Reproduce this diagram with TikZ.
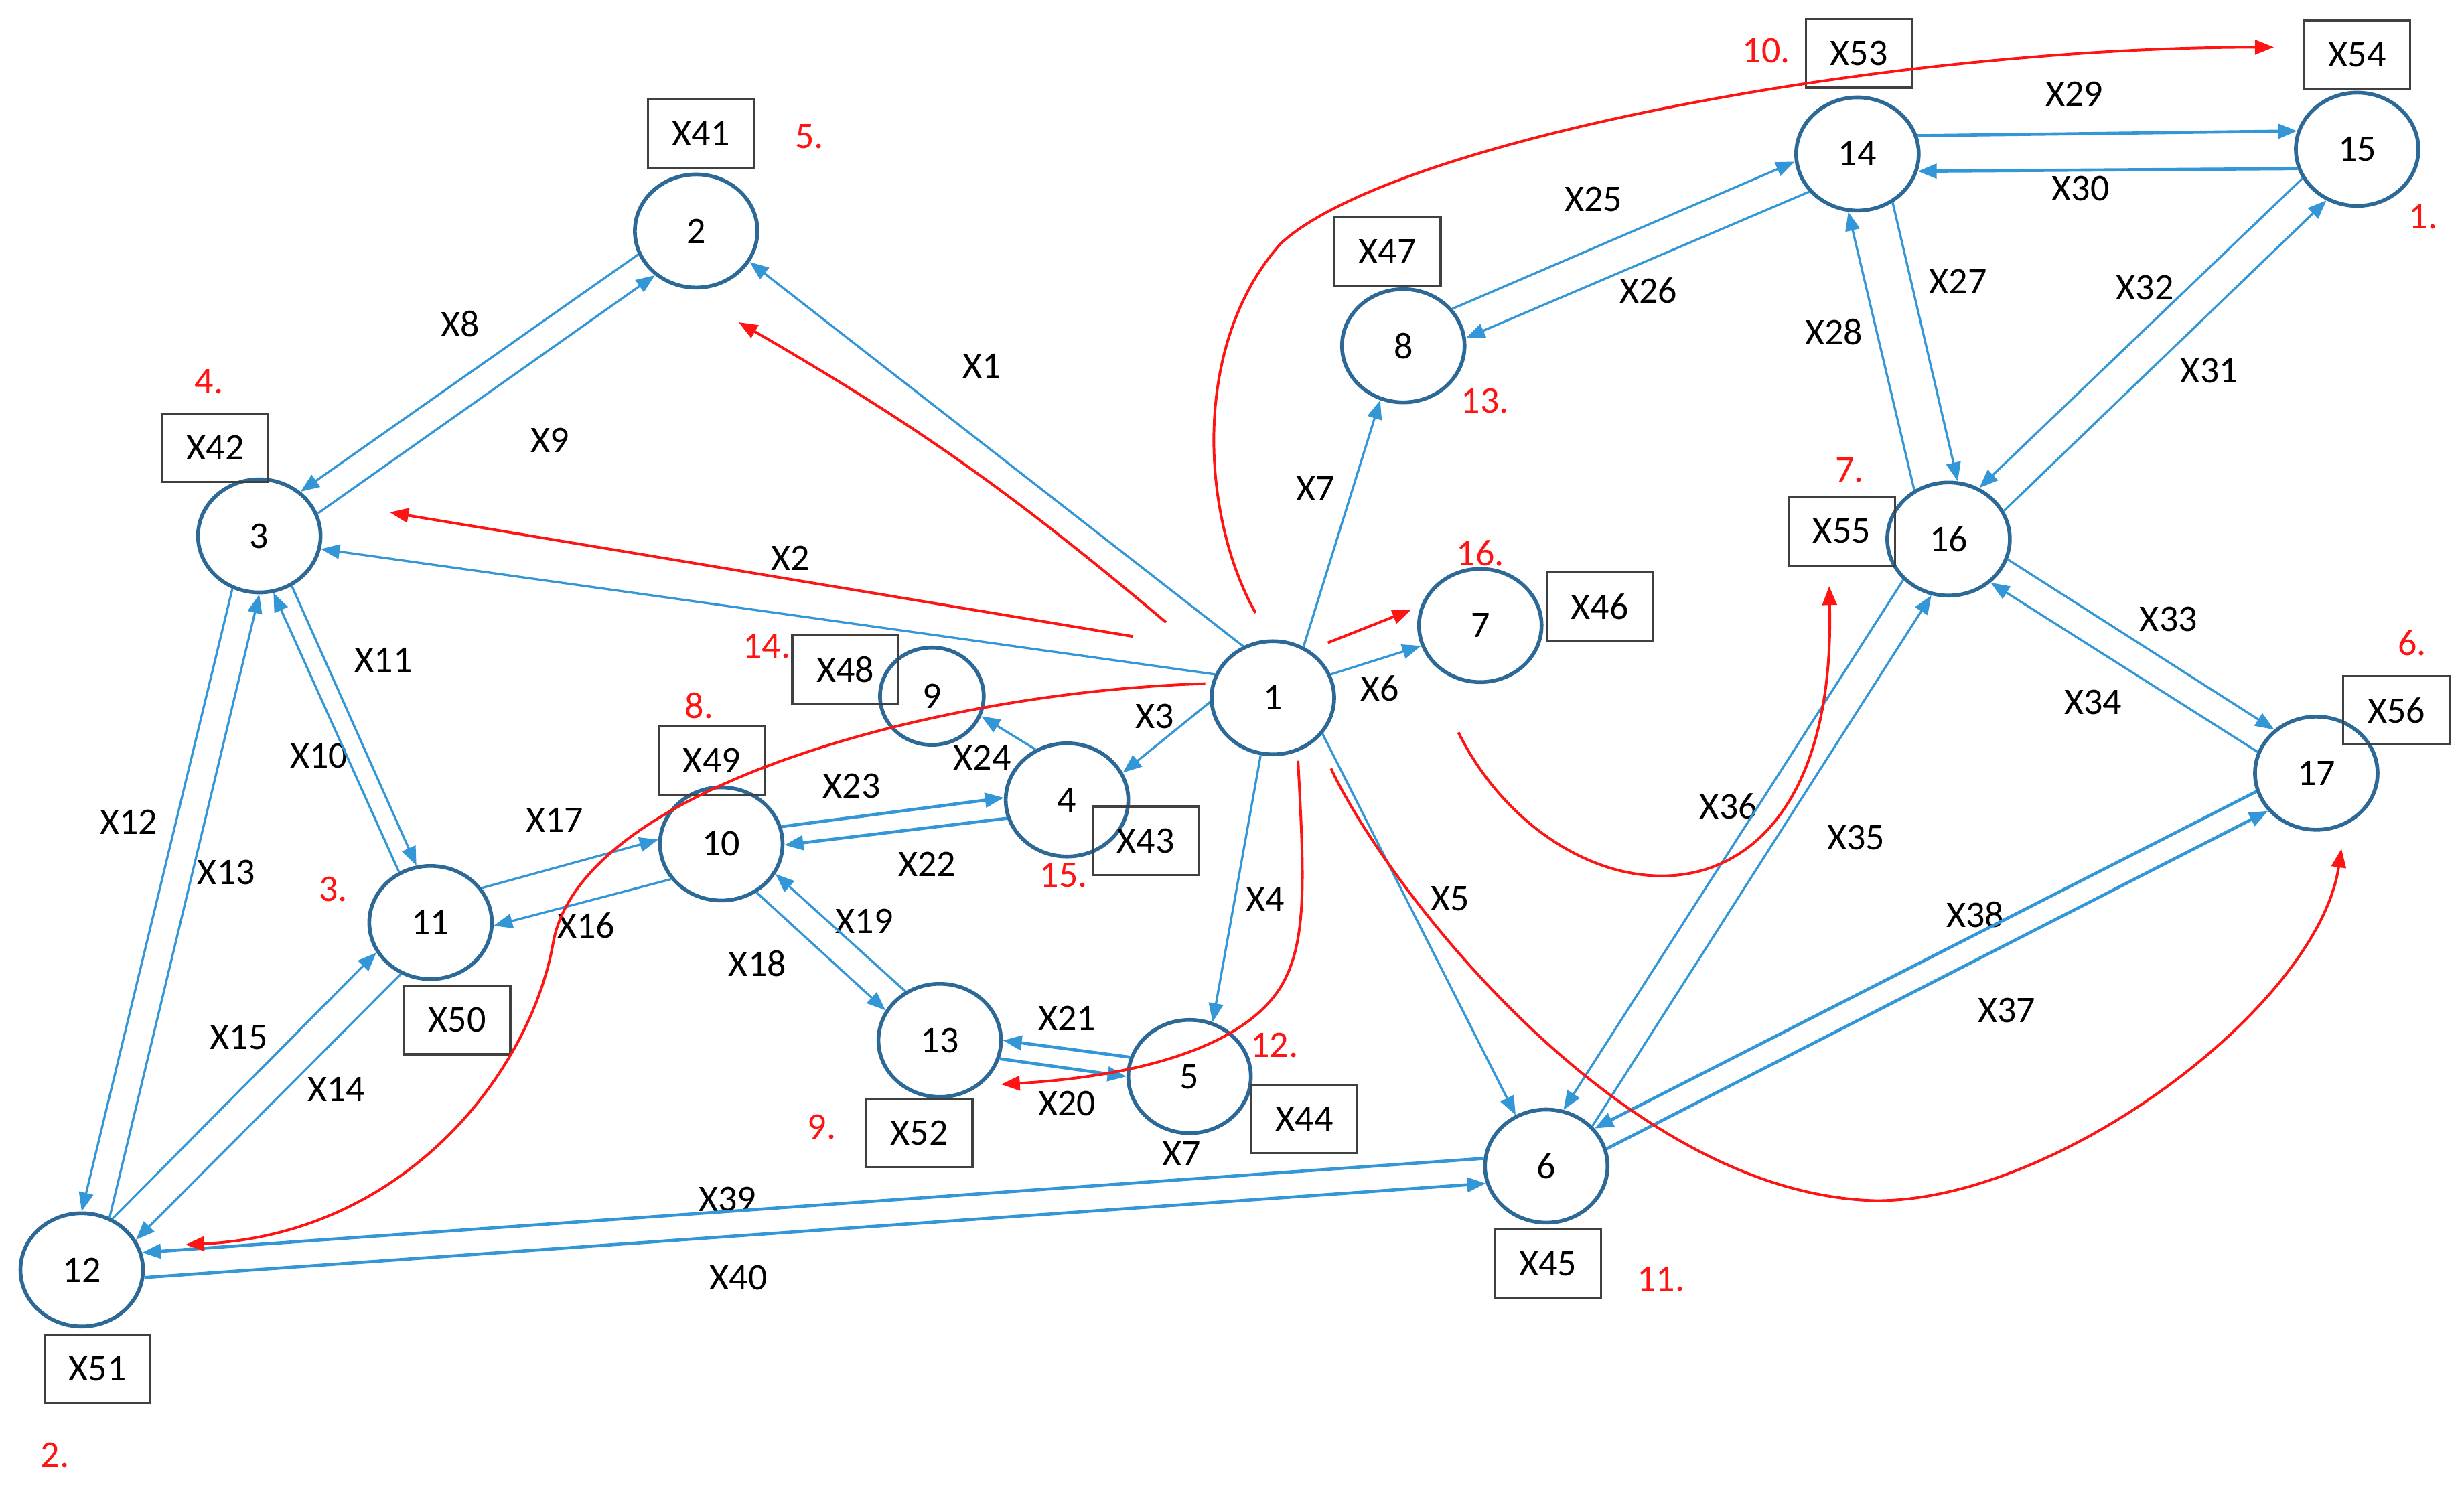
\documentclass[tikz,border=0pt]{standalone}
\usepackage{fontspec}
\setmainfont{Carlito}
\usepackage{tikz}
\usetikzlibrary{arrows.meta}
\usetikzlibrary{shapes.geometric}
\usetikzlibrary{calc}

\definecolor{edgeblue}{RGB}{50,150,215}
\definecolor{ringblue}{RGB}{45,105,150}
\definecolor{boxgray}{RGB}{64,64,64}
\definecolor{mark}{RGB}{255,20,20}

\begin{document}
\begin{tikzpicture}[x=0.25mm,y=-0.25mm,
  >={Triangle[length=3mm,width=2.3mm]},
  every node/.style={font=\fontsize{17}{20}\selectfont},
  vert/.style={draw=ringblue,ellipse,line width=1.7pt,minimum width=19.5mm,minimum height=18mm,inner sep=0pt},
  small/.style={minimum width=16.5mm,minimum height=15.5mm},
  term/.style={draw=boxgray,rectangle,line width=1pt,minimum width=16.9mm,minimum height=10.9mm,inner sep=0pt},
  lbl/.style={inner sep=1pt},
  num/.style={text=mark,inner sep=1pt},
  bl/.style={->,draw=edgeblue,line width=1pt},
  wide/.style={line width=1.4pt},
  rd/.style={->,draw=mark,line width=1.2pt},
  lane/.style={to path={let \p1=($(\tikztotarget)-(\tikztostart)$),
    \n1={atan2(\y1,\x1)+(#1)}, \n2={atan2(\y1,\x1)+180-(#1)} in
    (\tikztostart.\n1) -- (\tikztotarget.\n2)}}]

  \useasboundingbox (0,0) rectangle (1568,950);

  % circles
  \node[vert] (n1) at (810,444) {1};
  \node[vert] (n2) at (443,147) {2};
  \node[vert] (n3) at (165,341) {3};
  \node[vert] (n4) at (679,509) {4};
  \node[vert] (n5) at (757,685) {5};
  \node[vert] (n6) at (984,742) {6};
  \node[vert] (n7) at (942,398) {7};
  \node[vert] (n8) at (893,220) {8};
  \node[vert,small] (n9) at (593,443) {9};
  \node[vert] (n10) at (459,537) {10};
  \node[vert] (n11) at (274,587) {11};
  \node[vert] (n12) at (52,808) {12};
  \node[vert] (n13) at (598,662) {13};
  \node[vert] (n14) at (1182,98) {14};
  \node[vert] (n15) at (1500,95) {15};
  \node[vert] (n16) at (1240,343) {16};
  \node[vert] (n17) at (1474,492) {17};

  % boxes
  \node[term] (b41) at (446,85) {X41};
  \node[term] (b42) at (137,285) {X42};
  \node[term] (b43) at (729,535) {X43};
  \node[term] (b44) at (830,712) {X44};
  \node[term] (b45) at (985,804) {X45};
  \node[term] (b46) at (1018,386) {X46};
  \node[term] (b47) at (883,160) {X47};
  \node[term] (b48) at (538,426) {X48};
  \node[term] (b49) at (453,484) {X49};
  \node[term] (b50) at (291,649) {X50};
  \node[term] (b51) at (62,871) {X51};
  \node[term] (b52) at (585,721) {X52};
  \node[term] (b53) at (1183,34) {X53};
  \node[term] (b54) at (1500,35) {X54};
  \node[term] (b55) at (1172,338) {X55};
  \node[term] (b56) at (1525,452) {X56};

  % red order numbers
  \node[num] (m1) at (1542,138) {1.};
  \node[num] (m2) at (35,926) {2.};
  \node[num] (m3) at (212,566) {3.};
  \node[num] (m4) at (133,243) {4.};
  \node[num] (m5) at (515,87) {5.};
  \node[num] (m6) at (1535,409) {6.};
  \node[num] (m7) at (1177,299) {7.};
  \node[num] (m8) at (445,449) {8.};
  \node[num] (m9) at (523,717) {9.};
  \node[num] (m10) at (1124,32) {10.};
  \node[num] (m11) at (1057,814) {11.};
  \node[num] (m12) at (811,665) {12.};
  \node[num] (m13) at (945,255) {13.};
  \node[num] (m14) at (488,411) {14.};
  \node[num] (m15) at (677,557) {15.};
  \node[num] (m16) at (942,352) {16.};

  % edge labels
  \node[lbl] (l1) at (625,233) {X1};
  \node[lbl] (l2) at (503,355) {X2};
  \node[lbl] (l3) at (735,456) {X3};
  \node[lbl] (l4) at (805,572) {X4};
  \node[lbl] (l5) at (923,572) {X5};
  \node[lbl] (l6) at (878,438) {X6};
  \node[lbl] (l7) at (837,311) {X7};
  \node[lbl] (l7b) at (752,734) {X7};
  \node[lbl] (l8) at (293,206) {X8};
  \node[lbl] (l9) at (350,280) {X9};
  \node[lbl] (l10) at (203,481) {X10};
  \node[lbl] (l11) at (244,420) {X11};
  \node[lbl] (l12) at (82,523) {X12};
  \node[lbl] (l13) at (144,555) {X13};
  \node[lbl] (l14) at (214,693) {X14};
  \node[lbl] (l15) at (152,660) {X15};
  \node[lbl] (l16) at (373,589) {X16};
  \node[lbl] (l17) at (353,522) {X17};
  \node[lbl] (l18) at (482,613) {X18};
  \node[lbl] (l19) at (550,586) {X19};
  \node[lbl] (l20) at (679,702) {X20};
  \node[lbl] (l21) at (679,648) {X21};
  \node[lbl] (l22) at (590,550) {X22};
  \node[lbl] (l23) at (542,500) {X23};
  \node[lbl] (l24) at (625,482) {X24};
  \node[lbl] (l25) at (1014,127) {X25};
  \node[lbl] (l26) at (1049,185) {X26};
  \node[lbl] (l27) at (1246,179) {X27};
  \node[lbl] (l28) at (1167,211) {X28};
  \node[lbl] (l29) at (1320,60) {X29};
  \node[lbl] (l30) at (1324,120) {X30};
  \node[lbl] (l31) at (1406,236) {X31};
  \node[lbl] (l32) at (1365,183) {X32};
  \node[lbl] (l33) at (1380,394) {X33};
  \node[lbl] (l34) at (1332,447) {X34};
  \node[lbl] (l35) at (1181,533) {X35};
  \node[lbl] (l36) at (1100,513) {X36};
  \node[lbl] (l37) at (1277,643) {X37};
  \node[lbl] (l38) at (1257,582) {X38};
  \node[lbl] (l39) at (463,763) {X39};
  \node[lbl] (l40) at (470,813) {X40};

  % one-way edges
  \path (n1.120) edge[bl] (n2.-30)
        (n1.158) edge[bl] (n3.-12)
        (n1.184) edge[bl] (n4.26)
        (n1.258) edge[bl] (n5.67)
        (n1.-36) edge[bl] (n6.121)
        (n1.22) edge[bl] (n7.199)
        (n1.59) edge[bl] (n8.-113)
        (n4.122) edge[bl] (n9.-22);

  % two-way edges
  \path (n2) edge[bl,lane=-13] (n3)
        (n3) edge[bl,lane=-13] (n2)
        (n3) edge[bl,lane=9] (n11)
        (n11) edge[bl,lane=9] (n3)
        (n3) edge[bl,lane=-14] (n12)
        (n12) edge[bl,lane=-14] (n3)
        (n11) edge[bl,lane=15] (n12)
        (n12) edge[bl,lane=15] (n11)
        (n10) edge[bl,lane=19] (n11)
        (n11) edge[bl,lane=19] (n10)
        (n10) edge[bl,lane=-13] (n13)
        (n13) edge[bl,lane=-13] (n10)
        (n13) edge[bl,wide,lane=-9] (n5)
        (n5) edge[bl,wide,lane=-9] (n13)
        (n4) edge[bl,wide,lane=9] (n10)
        (n10) edge[bl,wide,lane=9] (n4)
        (n8) edge[bl,lane=15] (n14)
        (n14) edge[bl,lane=15] (n8)
        (n14) edge[bl,lane=22] (n16)
        (n16) edge[bl,lane=22] (n14)
        (n14) edge[bl,wide,lane=17] (n15)
        (n15) edge[bl,wide,lane=17] (n14)
        (n16) edge[bl,lane=-16] (n15)
        (n15) edge[bl,lane=-16] (n16)
        (n16) edge[bl,lane=13] (n17)
        (n17) edge[bl,lane=13] (n16)
        (n6) edge[bl,lane=-16] (n16)
        (n16) edge[bl,lane=-16] (n6)
        (n6) edge[bl,wide,lane=-11] (n17)
        (n17) edge[bl,wide,lane=-11] (n6)
        (n6) edge[bl,wide,lane=-12] (n12)
        (n12) edge[bl,wide,lane=-12] (n6);

  % red sequence
  \coordinate (r1s) at (742,396);  \coordinate (r1e) at (470,205);
  \coordinate (r2s) at (721,405);  \coordinate (r2e) at (248,326);
  \coordinate (r3s) at (845,409);  \coordinate (r3e) at (898,388);
  \coordinate (r4s) at (799,390);  \coordinate (r4e) at (1447,30);
  \coordinate (r5s) at (767,435);  \coordinate (r5e) at (118,792);
  \coordinate (r6s) at (826,484);  \coordinate (r6e) at (637,690);
  \coordinate (r7s) at (847,489);  \coordinate (r7e) at (1490,540);
  \coordinate (r8s) at (928,466);  \coordinate (r8e) at (1164,373);

  \draw[rd] (r1s) to[bend right=5] (r1e);
  \draw[rd] (r2s) -- (r2e);
  \draw[rd] (r3s) -- (r3e);
  \draw[rd] (r4s) .. controls (765,330) and (757,220) .. (815,155)
                  .. controls (885,90) and (1200,30) .. (r4e);
  \draw[rd] (r5s) .. controls (600,440) and (370,500) .. (352,600)
                  .. controls (338,680) and (260,785) .. (r5e);
  \draw[rd] (r6s) .. controls (830,560) and (832,600) .. (815,628)
                  .. controls (790,668) and (720,685) .. (r6e);
  \draw[rd] (r7s) .. controls (880,560) and (1030,760) .. (1194,764)
                  .. controls (1310,764) and (1475,640) .. (r7e);
  \draw[rd] (r8s) .. controls (990,590) and (1170,610) .. (r8e);
\end{tikzpicture}
\end{document}
